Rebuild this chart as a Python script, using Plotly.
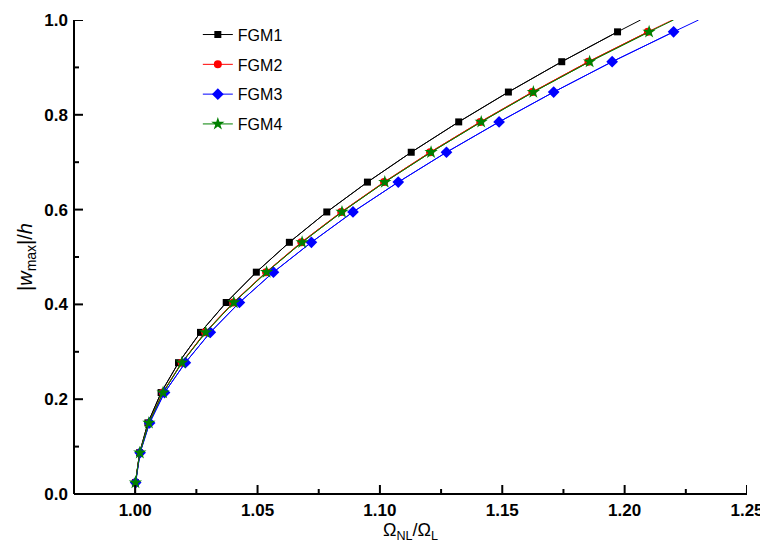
import plotly.graph_objects as go

# Dimensionless amplitude |w_max|/h (shared by all series)
amp = [0.0, 0.024, 0.087, 0.150, 0.214, 0.277, 0.341, 0.404, 0.468, 0.531,
       0.595, 0.658, 0.721, 0.785, 0.848, 0.912, 0.975, 1.0]

# Frequency ratio Omega_NL / Omega_L for each material
fgm1 = [1.0000, 1.0001, 1.0018, 1.0052, 1.0106, 1.0177, 1.0267, 1.0372, 1.0495,
        1.0630, 1.0783, 1.0949, 1.1128, 1.1322, 1.1525, 1.1743, 1.1971, 1.2065]
fgm2 = [1.0000, 1.0001, 1.0019, 1.0056, 1.0113, 1.0190, 1.0286, 1.0401, 1.0535,
        1.0679, 1.0842, 1.1017, 1.1205, 1.1410, 1.1623, 1.1852, 1.2095, 1.2195]
fgm3 = [1.0000, 1.0002, 1.0020, 1.0059, 1.0120, 1.0205, 1.0307, 1.0426, 1.0565,
        1.0720, 1.0890, 1.1075, 1.1272, 1.1487, 1.1710, 1.1949, 1.2200, 1.2302]
fgm4 = [1.0000, 1.0001, 1.0019, 1.0056, 1.0114, 1.0191, 1.0288, 1.0403, 1.0537,
        1.0682, 1.0845, 1.1020, 1.1209, 1.1414, 1.1627, 1.1857, 1.2100, 1.2200]

names = ["FGM1", "FGM2", "FGM3", "FGM4"]
series = [fgm1, fgm2, fgm3, fgm4]
colors = ["#000000", "#FF0000", "#0000FF", "#008000"]
symbols = ["square", "circle", "diamond", "star"]
msizes = [7, 8, 9, 10]

x_ticks = [1.00, 1.05, 1.10, 1.15, 1.20, 1.25]
y_ticks = [0.0, 0.2, 0.4, 0.6, 0.8, 1.0]
x_range = [0.975, 1.25]
y_range = [0.0, 1.0]

fig = go.Figure()
for name, xs, c in zip(names, series, colors):
    fig.add_trace(go.Scatter(x=xs, y=amp, mode="lines",
                             line=dict(color=c, width=1),
                             showlegend=False, hoverinfo="skip"))
for name, xs, c, s, ms in zip(names, series, colors, symbols, msizes):
    fig.add_trace(go.Scatter(x=xs[1:-1], y=amp[1:-1], mode="lines+markers",
                             name=name, legendgroup=name,
                             line=dict(color=c, width=1),
                             marker=dict(symbol=s, size=ms, color=c,
                                         line=dict(width=0))))

tick_font = dict(family="Arial, Liberation Sans", size=17, color="black", weight="bold")

fig.update_xaxes(
    range=x_range, tickmode="array", tickvals=x_ticks, tickformat=".2f",
    showline=False, ticks="", showgrid=False, zeroline=False, tickfont=tick_font,
    ticklabelstandoff=4,
    title=dict(text="Ω<sub>NL</sub>/Ω<sub>L</sub>",
               font=dict(family="Arial, Liberation Sans", size=18, color="black"),
               standoff=4),
)
fig.update_yaxes(
    range=y_range, tickmode="array", tickvals=y_ticks, tickformat=".1f",
    showline=False, ticks="", showgrid=False, zeroline=False, tickfont=tick_font,
    ticklabelstandoff=5,
    title=dict(text="|<i>w</i><sub>max</sub>|/<i>h</i>",
               font=dict(family="Arial, Liberation Sans", size=20, color="black"),
               standoff=6),
)

# Axis frame (left and bottom lines) and inside ticks drawn as shapes
axis_line = dict(color="black", width=2)
tick_line = dict(color="black", width=2)
shapes = [
    dict(type="line", xref="paper", yref="paper", x0=0, x1=1, y0=0, y1=0, line=axis_line, layer="above"),
    dict(type="line", xref="paper", yref="paper", x0=0, x1=0, y0=0, y1=1, line=axis_line, layer="above"),
]
major_len_y = 9 / 474.0
minor_len_y = 5 / 474.0
major_len_x = 9 / 673.0
minor_len_x = 5 / 673.0
for i, t in enumerate(x_ticks):
    shapes.append(dict(type="line", xref="x", yref="paper", x0=t, x1=t, y0=0, y1=major_len_y,
                       line=tick_line, layer="above"))
    if i > 0:
        m = (x_ticks[i - 1] + t) / 2
        shapes.append(dict(type="line", xref="x", yref="paper", x0=m, x1=m, y0=0, y1=minor_len_y,
                           line=tick_line, layer="above"))
for i, t in enumerate(y_ticks):
    shapes.append(dict(type="line", xref="paper", yref="y", x0=0, x1=major_len_x, y0=t, y1=t,
                       line=tick_line, layer="above"))
    if i > 0:
        m = (y_ticks[i - 1] + t) / 2
        shapes.append(dict(type="line", xref="paper", yref="y", x0=0, x1=minor_len_x, y0=m, y1=m,
                           line=tick_line, layer="above"))

fig.update_layout(
    width=760, height=543,
    margin=dict(l=66, r=21, t=12, b=57, autoexpand=False),
    plot_bgcolor="white", paper_bgcolor="white",
    font=dict(family="Arial, Liberation Sans", color="black"),
    shapes=shapes,
    legend=dict(x=0.184, y=1.005, xanchor="left", yanchor="top",
                font=dict(family="Arial, Liberation Sans", size=16, color="black"),
                bgcolor="rgba(0,0,0,0)", tracegroupgap=6,
                itemwidth=30),
)

fig.write_html("out.html")
